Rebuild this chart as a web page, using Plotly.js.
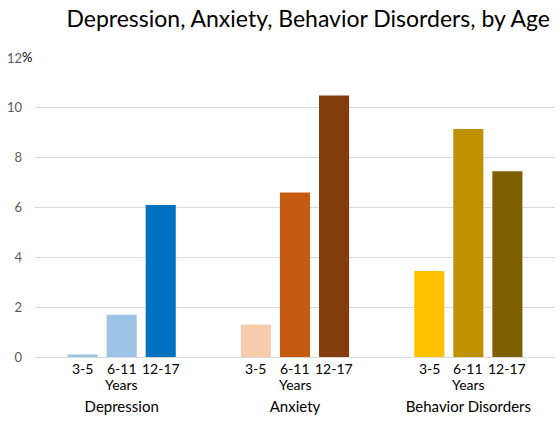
<!DOCTYPE html>
<html><head><meta charset="utf-8">
<script src="https://cdn.plot.ly/plotly-3.0.1.min.js"></script>
<style>body{margin:0;background:#fff}#chart{width:560px;height:422px}</style>
</head><body><div id="chart"></div>
<script>
const groups = ["Depression", "Anxiety", "Behavior Disorders"];
const ages = ["3-5", "6-11", "12-17"];
const val_3_5 = [0.1, 1.3, 3.45];
const val_6_11 = [1.7, 6.6, 9.15];
const val_12_17 = [6.1, 10.5, 7.45];
const colors_3_5 = ["#9DC3E6", "#F8CBAD", "#FFC000"];
const colors_6_11 = ["#9DC3E6", "#C55A11", "#BF9000"];
const colors_12_17 = ["#0070C0", "#843C0C", "#7F6000"];
const yTickVals = [0, 2, 4, 6, 8, 10, 12];
const yTickText = ["0", "2", "4", "6", "8", "10", "12"];

const series = [val_3_5, val_6_11, val_12_17];
const cols = [colors_3_5, colors_6_11, colors_12_17];
const traces = series.map((v, i) => ({
  type: "bar", x: groups, y: v, name: ages[i],
  marker: {color: cols[i], line: {width: 0}},
  hoverinfo: "x+y+name"
}));

const W = 560, H = 422;
const margin = {l: 35, r: 5, t: 58, b: 65, pad: 0};
const bargap = 0.324, bargroupgap = 0.23;
const plotW = W - margin.l - margin.r;
const slotPx = plotW / groups.length * (1 - bargap) / ages.length;
const F = "Lato, sans-serif";

const annotations = [];
groups.forEach(g => {
  ages.forEach((a, i) => {
    annotations.push({x: g, y: 0, xref: "x", yref: "y", text: a, showarrow: false,
      xshift: (i - 1) * slotPx, yanchor: "top", yshift: -1,
      font: {family: F, size: 14, color: "#000"}});
  });
  annotations.push({x: g, y: 0, xref: "x", yref: "y", text: "Years", showarrow: false,
    yanchor: "top", yshift: -17, font: {family: F, size: 14, color: "#000"}});
});
annotations.push({x: 0, y: 12, xref: "paper", yref: "y", text: "%", showarrow: false,
  xanchor: "right", xshift: -1, yshift: 1, font: {family: F, size: 13, color: "#000"}});

const layout = {
  width: W, height: H, margin: margin,
  paper_bgcolor: "#fff", plot_bgcolor: "#fff",
  barmode: "group", bargap: bargap, bargroupgap: bargroupgap,
  showlegend: false,
  title: {text: "Depression, Anxiety, Behavior Disorders, by Age",
    font: {family: F, size: 23, color: "#000"},
    x: 0.982, xanchor: "right", y: 0.955, yanchor: "middle"},
  xaxis: {type: "category", showgrid: false, showline: false, ticks: "",
    tickfont: {family: F, size: 15, color: "#000"},
    ticklabelstandoff: 39},
  yaxis: {range: [0, 12], tickvals: yTickVals, ticktext: yTickText,
    showgrid: true, gridcolor: "#D9D9D9", gridwidth: 1,
    zeroline: true, zerolinecolor: "#D9D9D9", zerolinewidth: 1,
    showline: false, ticks: "", ticklabelstandoff: 12,
    tickfont: {family: F, size: 13, color: "#595959"}},
  annotations: annotations
};
Plotly.newPlot("chart", traces, layout, {displayModeBar: false, staticPlot: true});
</script></body></html>
